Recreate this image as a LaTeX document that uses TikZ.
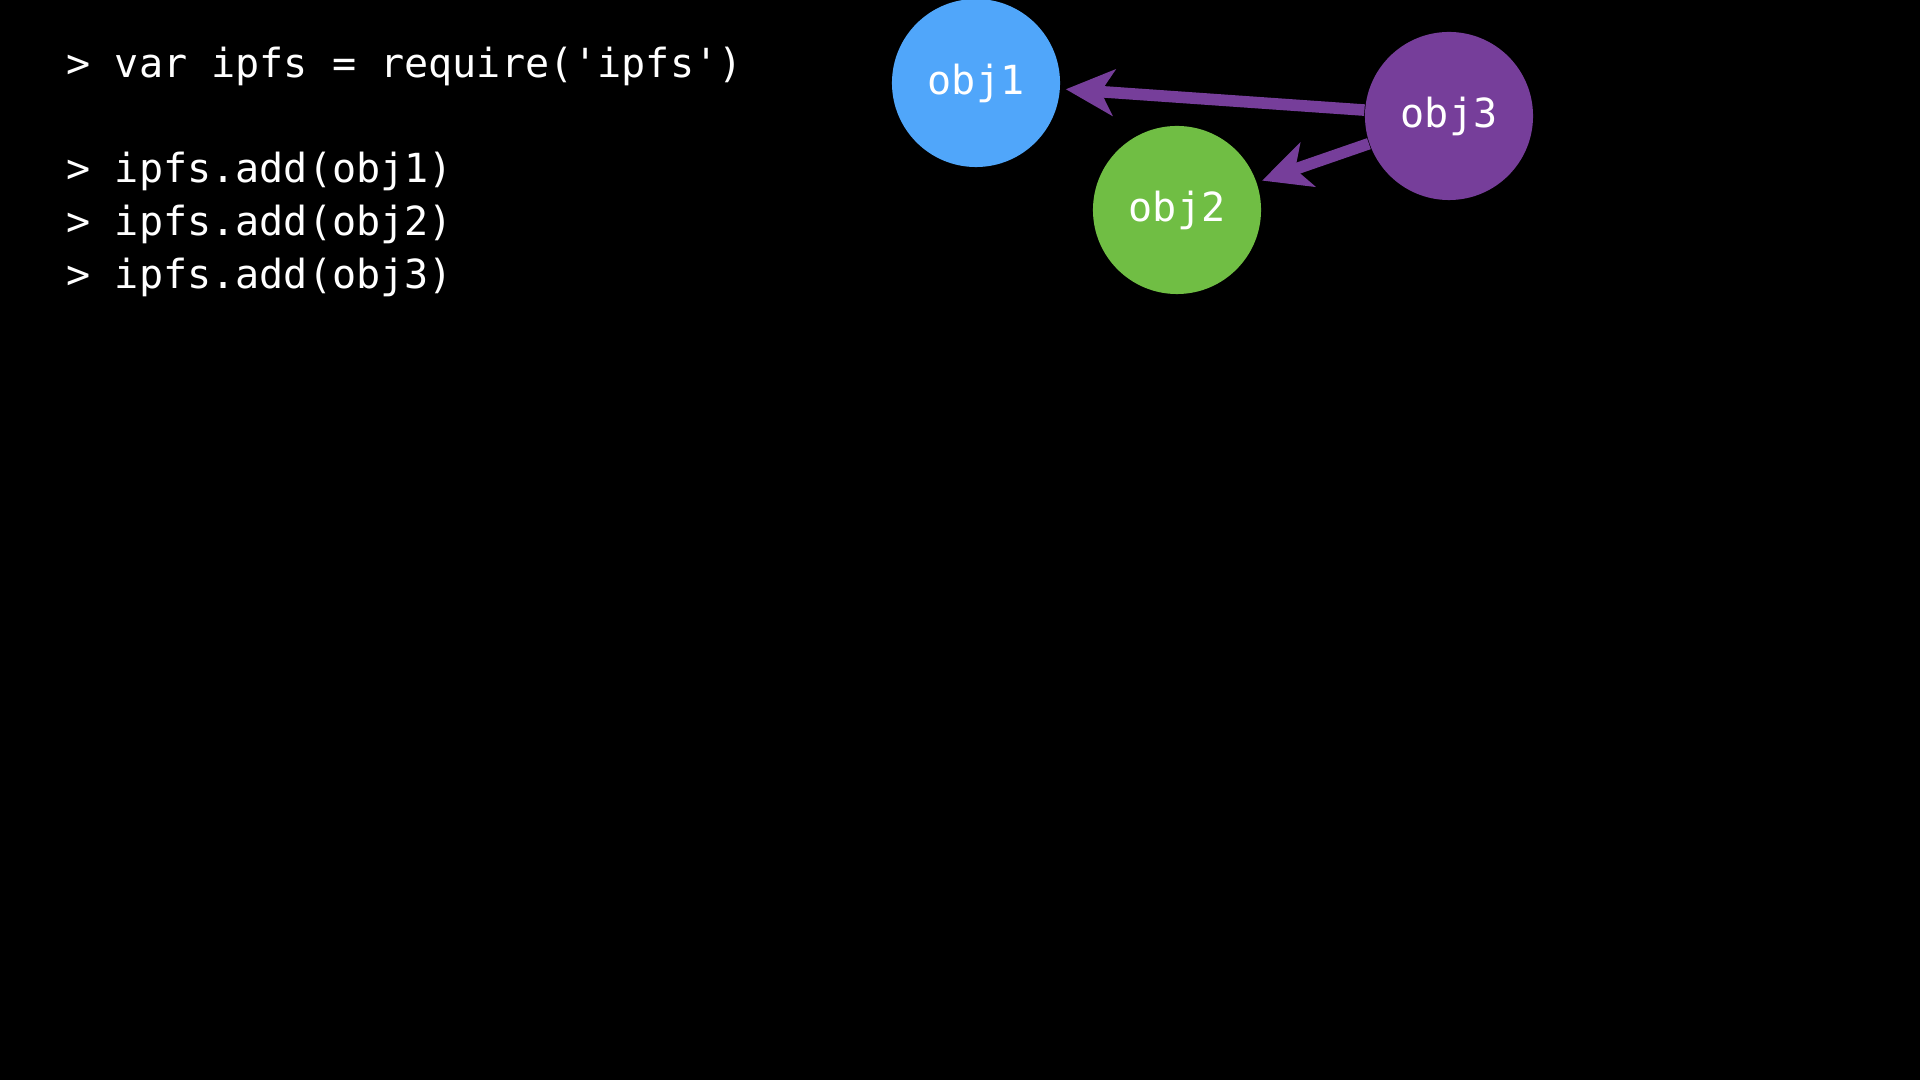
\documentclass[tikz,border=0pt]{standalone}
\usepackage{fontspec}
\setmonofont{DejaVu Sans Mono}
\usepackage{tikz}
\usetikzlibrary{arrows.meta,positioning}
\usepackage{xcolor}
\definecolor{objblue}{RGB}{80,166,250}
\definecolor{objgreen}{RGB}{112,190,68}
\definecolor{objpurple}{RGB}{118,62,154}

\begin{document}
\begin{tikzpicture}[x=0.01cm, y=-0.01cm,
    code/.style={anchor=base west, inner sep=0pt, text=white, font=\ttfamily\fontsize{11.4pt}{15pt}\selectfont},
    obj/.style={circle, minimum size=1.68cm, inner sep=0pt, text=white, font=\ttfamily\fontsize{11.4pt}{15pt}\selectfont},
    link/.style={-{Stealth[length=4.8mm, width=4.6mm, inset=1.3mm]}, objpurple, line width=3.3pt, shorten >=1.5pt}
]
% Background
\fill[black] (0,0) rectangle (1920,1080);
\useasboundingbox (0,0) rectangle (1920,1080);

% Console
\node[code] (c_req) at (66,78) {> var ipfs = require('ipfs')};
\node[code] (c_add1) at (66,183) {> ipfs.add(obj1)};
\node[code] (c_add2) at (66,236) {> ipfs.add(obj2)};
\node[code] (c_add3) at (66,289) {> ipfs.add(obj3)};

% Objects
\node[obj, fill=objblue] (obj1) at (976,83) {obj1};
\node[obj, fill=objgreen] (obj2) at (1177,210) {obj2};
\node[obj, fill=objpurple] (obj3) at (1449,116) {obj3};

\draw[link] (obj3) -- (obj1);
\draw[link] (obj3) -- (obj2);
\end{tikzpicture}
\end{document}
